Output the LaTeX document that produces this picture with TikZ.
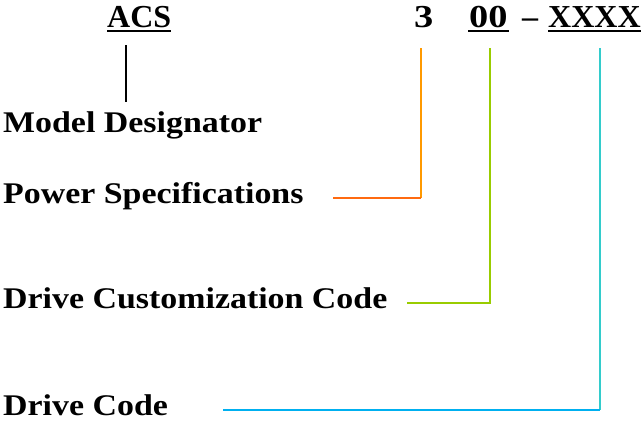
\documentclass[tikz,border=0pt]{standalone}
\usepackage{fontspec}
\setmainfont{Liberation Serif}
\newfontfamily\labfont{Liberation Serif}[FakeStretch=1.13]
\newfontfamily\digfont{Liberation Serif}[FakeStretch=1.2]
\usetikzlibrary{calc}
\definecolor{orV}{HTML}{FF9900}
\definecolor{orH}{HTML}{FF6A10}
\definecolor{grn}{HTML}{99CC00}
\definecolor{cyV}{HTML}{33CCCC}
\definecolor{cyH}{HTML}{00B0F0}
\tikzset{
  hdr/.style={anchor=base west, inner sep=0pt, font=\fontsize{32}{36}\selectfont\bfseries},
  lab/.style={anchor=base west, inner sep=0pt, font=\labfont\fontsize{30}{34}\selectfont\bfseries},
  uline/.style={line width=2.2pt},
  conn/.style={line width=2.6pt}
}
\begin{document}
\begin{tikzpicture}[x=1pt,y=1pt]
\useasboundingbox (0,0) rectangle (641,-421);
% header
\node[hdr] (acs) at (107,-27) {ACS};
\node[hdr, font=\digfont\fontsize{32}{36}\selectfont\bfseries] (three) at (414,-27) {3};
\node[hdr, font=\digfont\fontsize{32}{36}\selectfont\bfseries] (zz) at (469,-27) {00};
\node[hdr] (dash) at (522,-27) {–};
\node[hdr] (xx) at (548,-27) {XXXX};
\draw[uline] ($(acs.base west)+(0,-4)$) -- ($(acs.base east)+(0,-4)$);
\draw[uline] ($(zz.base west)+(-1,-4)$) -- ($(zz.base east)+(1,-4)$);
\draw[uline] ($(xx.base west)+(0,-4)$) -- ($(xx.base east)+(0,-4)$);
% labels
\node[lab] (model) at (3,-132) {Model Designator};
\node[lab] (power) at (3,-203) {Power Specifications};
\node[lab] (custom) at (3,-308) {Drive Customization Code};
\node[lab] (drive) at (3,-415) {Drive Code};
% connector coordinates
\coordinate (mtop) at (126,-45);
\coordinate (mbot) at (126,-102);
\coordinate (t3) at (421,-48);
\coordinate (s3) at (333,-198);
\coordinate (t0) at (490,-48);
\coordinate (s0) at (407,-303);
\coordinate (tx) at (600,-48);
\coordinate (sx) at (223,-410);
\coordinate (c3) at (421,-198);
\coordinate (c0) at (490,-303);
\coordinate (cx) at (600,-410);
% connectors
\draw[conn, black] (mtop) -- (mbot);
\draw[conn, orV] (t3) -- (c3);
\draw[conn, orH] (s3) -- (c3);
\draw[conn, grn] (t0) -- (c0) -- (s0);
\draw[conn, cyV] (tx) -- (cx);
\draw[conn, cyH] (sx) -- (cx);
\end{tikzpicture}
\end{document}
